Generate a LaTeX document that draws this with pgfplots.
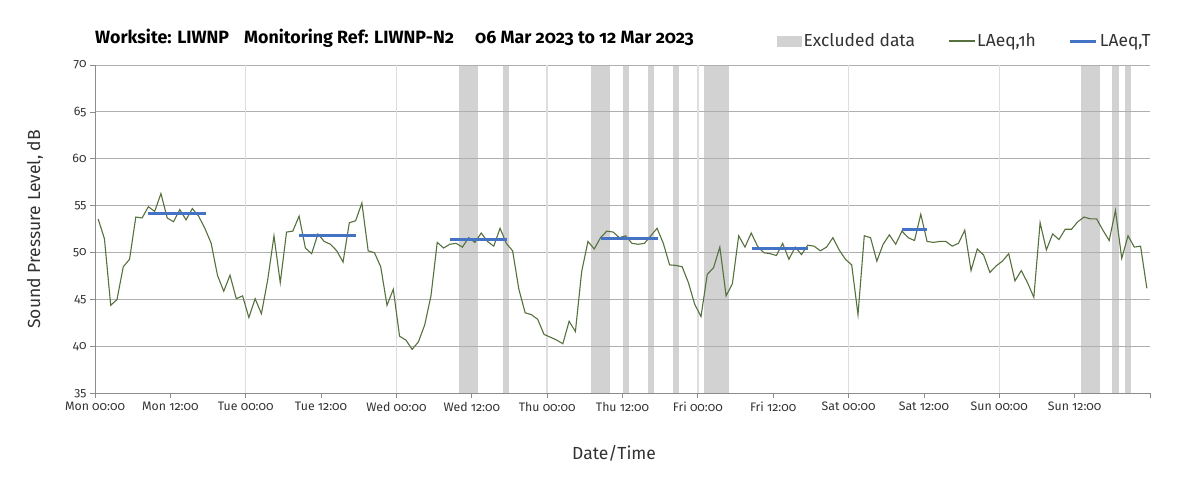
\documentclass[border=0pt]{standalone}
\usepackage{pgfplots}
\usepackage{pgfplotstable}
\pgfplotsset{compat=1.18}
\usepackage{fontspec}
\setmainfont{Fira Sans}[Numbers=OldStyle]
\definecolor{lgreen}{RGB}{86,112,62}
\definecolor{lblue}{RGB}{68,114,196}
\definecolor{band}{RGB}{210,210,210}
\definecolor{hgrid}{RGB}{175,175,175}
\definecolor{vgrid}{RGB}{222,222,222}
\definecolor{axgray}{RGB}{140,140,140}
\definecolor{txt}{RGB}{50,50,50}
\pgfplotsset{
  lineleg/.style={legend image code/.code={\draw[##1] (0pt,0pt) -- (26pt,0pt);}},
  bandleg/.style={legend image code/.code={\fill[band] (0pt,-5.5pt) rectangle (25pt,5.5pt);}},
}
\pgfplotstableread{
h v
0.5 53.6
1.5 51.5
2.5 44.4
3.5 45.0
4.5 48.5
5.5 49.3
6.5 53.8
7.5 53.7
8.5 54.9
9.5 54.4
10.5 56.3
11.5 53.7
12.5 53.3
13.5 54.6
14.5 53.5
15.5 54.7
16.5 53.9
17.5 52.6
18.5 51.0
19.5 47.6
20.5 45.9
21.5 47.6
22.5 45.1
23.5 45.4
24.5 43.1
25.5 45.1
26.5 43.5
27.5 47.1
28.5 51.8
29.5 46.8
30.5 52.2
31.5 52.3
32.5 53.9
33.5 50.5
34.5 49.9
35.5 52.0
36.5 51.2
37.5 50.9
38.5 50.2
39.5 49.0
40.5 53.2
41.5 53.4
42.5 55.3
43.5 50.2
44.5 50.0
45.5 48.5
46.5 44.4
47.5 46.1
48.5 41.1
49.5 40.7
50.5 39.7
51.5 40.5
52.5 42.3
53.5 45.4
54.5 51.1
55.5 50.5
56.5 50.9
57.5 51.0
58.5 50.6
59.5 51.6
60.5 51.1
61.5 52.1
62.5 51.2
63.5 50.7
64.5 52.6
65.5 51.0
66.5 50.2
67.5 46.1
68.5 43.6
69.5 43.4
70.5 42.9
71.5 41.3
72.5 41.0
73.5 40.7
74.5 40.3
75.5 42.7
76.5 41.6
77.5 48.0
78.5 51.2
79.5 50.4
80.5 51.6
81.5 52.3
82.5 52.2
83.5 51.6
84.5 51.8
85.5 51.0
86.5 50.9
87.5 51.0
88.5 51.8
89.5 52.6
90.5 51.0
91.5 48.7
92.5 48.65
93.5 48.5
94.5 46.8
95.5 44.5
96.5 43.2
97.5 47.7
98.5 48.4
99.5 50.6
100.5 45.4
101.5 46.7
102.5 51.8
103.5 50.6
104.5 52.1
105.5 50.7
106.5 50.0
107.5 49.9
108.5 49.7
109.5 51.0
110.5 49.3
111.5 50.6
112.5 49.8
113.5 50.8
114.5 50.7
115.5 50.2
116.5 50.6
117.5 51.6
118.5 50.3
119.5 49.3
120.5 48.7
121.5 43.4
122.5 51.8
123.5 51.6
124.5 49.1
125.5 50.9
126.5 51.9
127.5 50.9
128.5 52.3
129.5 51.6
130.5 51.3
131.5 54.1
132.5 51.2
133.5 51.1
134.5 51.2
135.5 51.2
136.5 50.7
137.5 51.0
138.5 52.4
139.5 48.1
140.5 50.4
141.5 49.75
142.5 47.9
143.5 48.6
144.5 49.1
145.5 49.9
146.5 47.0
147.5 48.1
148.5 46.8
149.5 45.25
150.5 53.2
151.5 50.3
152.5 52.0
153.5 51.4
154.5 52.5
155.5 52.5
156.5 53.3
157.5 53.8
158.5 53.6
159.5 53.6
160.5 52.4
161.5 51.3
162.5 54.5
163.5 49.4
164.5 51.8
165.5 50.6
166.5 50.7
167.5 46.2
}\hourly
\begin{document}
\begin{tikzpicture}[x=1pt,y=1pt]
\path (0,0) rectangle (1203,485);
\begin{axis}[
  set layers=standard,
  at={(95pt,91.5pt)}, anchor=south west,
  scale only axis, width=1055pt, height=328.5pt,
  xmin=0, xmax=168, ymin=35, ymax=70,
  axis lines*=left,
  axis line style={axgray, line width=0.8pt},
  tick align=outside,
  major tick length=5pt,
  tick style={axgray, line width=0.8pt},
  xtick={0,12,...,168},
  xticklabels={Mon 00:00,Mon 12:00,Tue 00:00,Tue 12:00,Wed 00:00,Wed 12:00,Thu 00:00,Thu 12:00,Fri 00:00,Fri 12:00,Sat 00:00,Sat 12:00,Sun 00:00,Sun 12:00,{}},
  ytick={35,40,...,70},
  /pgf/number format/assume math mode=true,
  ticklabel style={font=\fontsize{12.3}{14}\selectfont, text=txt},
  ymajorgrids=true,
  y grid style={hgrid, line width=0.9pt},
  extra x ticks={24,48,72,96,120,144},
  extra x tick labels={},
  extra x tick style={grid=major, major grid style={vgrid, line width=1.3pt}, major tick length=0pt},
  xlabel={Date/Time},
  every axis x label/.style={at={(axis description cs:0.492,-0.181)}, anchor=center, font=\fontsize{17.5}{19}\selectfont, text=txt},
  ylabel={Sound Pressure Level, dB},
  every axis y label/.style={at={(axis description cs:-0.0569,0.5)}, rotate=90, anchor=center, font=\fontsize{17.5}{19}\selectfont, text=txt},
  every axis title shift=0pt,
  title={\bfseries Worksite: LIWNP\hspace{15pt}Monitoring Ref: LIWNP-N2\hspace{21pt}06 Mar 2023 to 12 Mar 2023},
  title style={at={(axis description cs:0,1.082)}, anchor=west, font=\fontsize{17.8}{20}\selectfont, text=black, inner sep=0pt},
  legend columns=3,
  legend style={draw=none, fill=none, at={(axis description cs:0.643,1.073)}, anchor=west,
    font=\fontsize{17.4}{19}\selectfont, text=txt,
    /tikz/every even column/.append style={column sep=31pt}},
]
\addplot[fill=band, draw=none, on layer=axis background, bandleg]
  coordinates {(58,35) (61,35) (61,70) (58,70)} --cycle;
\addlegendentry{Excluded data}
\addplot[fill=band, draw=none, on layer=axis background, forget plot] coordinates {(65,35) (66,35) (66,70) (65,70)} --cycle;
\addplot[fill=band, draw=none, on layer=axis background, forget plot] coordinates {(79,35) (82,35) (82,70) (79,70)} --cycle;
\addplot[fill=band, draw=none, on layer=axis background, forget plot] coordinates {(84,35) (85,35) (85,70) (84,70)} --cycle;
\addplot[fill=band, draw=none, on layer=axis background, forget plot] coordinates {(88,35) (89,35) (89,70) (88,70)} --cycle;
\addplot[fill=band, draw=none, on layer=axis background, forget plot] coordinates {(92,35) (93,35) (93,70) (92,70)} --cycle;
\addplot[fill=band, draw=none, on layer=axis background, forget plot] coordinates {(97,35) (101,35) (101,70) (97,70)} --cycle;
\addplot[fill=band, draw=none, on layer=axis background, forget plot] coordinates {(157,35) (160,35) (160,70) (157,70)} --cycle;
\addplot[fill=band, draw=none, on layer=axis background, forget plot] coordinates {(162,35) (163,35) (163,70) (162,70)} --cycle;
\addplot[fill=band, draw=none, on layer=axis background, forget plot] coordinates {(164,35) (165,35) (165,70) (164,70)} --cycle;
\addplot[lgreen, line width=1.1pt, mark=none, lineleg]
  table[x=h, y=v] {\hourly};
\addlegendentry{LAeq,1h}
\addplot[lblue, line width=3pt, mark=none, lineleg]
  coordinates {(8.5,54.2) (17.6,54.2)};
\addlegendentry{LAeq,T}
\addplot[lblue, line width=3pt, forget plot] coordinates {(32.5,51.8) (41.6,51.8)};
\addplot[lblue, line width=3pt, forget plot] coordinates {(56.5,51.45) (65.6,51.45)};
\addplot[lblue, line width=3pt, forget plot] coordinates {(80.5,51.55) (89.6,51.55)};
\addplot[lblue, line width=3pt, forget plot] coordinates {(104.6,50.4) (113.6,50.4)};
\addplot[lblue, line width=3pt, forget plot] coordinates {(128.5,52.5) (132.5,52.5)};
\end{axis}
\end{tikzpicture}
\end{document}
